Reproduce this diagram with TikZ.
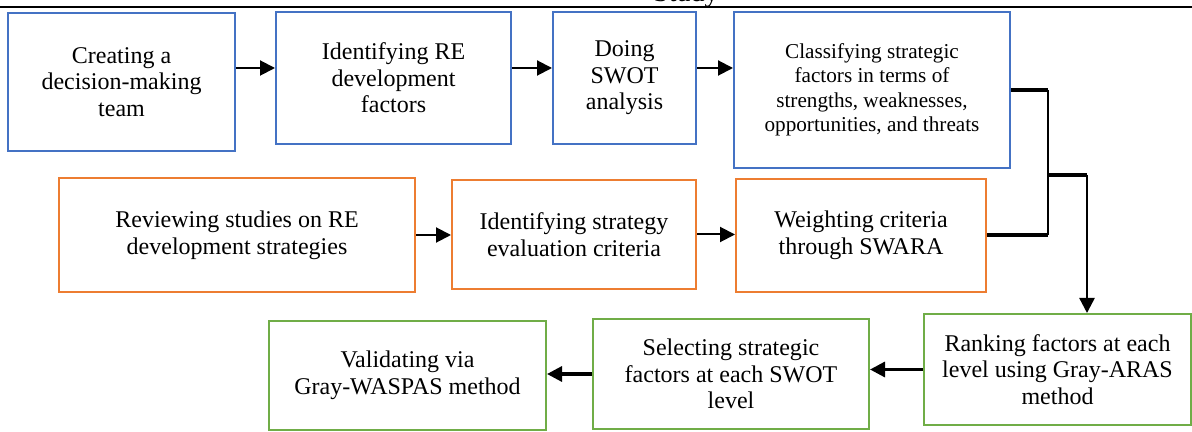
\documentclass[tikz,border=0pt]{standalone}
\usepackage{fontspec}
\setmainfont{Liberation Serif}
\usetikzlibrary{arrows.meta}
\definecolor{boxblue}{HTML}{4472C4}
\definecolor{boxorange}{HTML}{ED7D31}
\definecolor{boxgreen}{HTML}{70AD47}

\begin{document}
\begin{tikzpicture}[x=0.5pt,y=-0.5pt,
  box/.style={draw,line width=1pt,align=center,inner sep=2pt,font=\fontsize{12}{13.3}\selectfont},
  bluebox/.style={box,draw=boxblue},
  orangebox/.style={box,draw=boxorange},
  greenbox/.style={box,draw=boxgreen},
  arr/.style={-{Triangle[length=7.5pt,width=7.5pt]},line width=1pt},
  thickarr/.style={arr,line width=1.6pt}]
  \useasboundingbox (0,0) rectangle (1192,432);

  % Caption rule
  \draw[line width=1pt] (0,7) -- (1192,7);
  \node[anchor=base] (study) at (686,2) {\fontsize{14}{15}\selectfont Study};

  % SWOT steps
  \node[bluebox,minimum width=113.5pt,minimum height=69pt] (team) at (121.5,82) {Creating a\\decision-making\\team};
  \node[bluebox,minimum width=117.5pt,minimum height=66pt] (factors) at (393.5,78) {Identifying RE\\development\\factors};
  \node[bluebox,minimum width=71.5pt,minimum height=66pt] (swot) at (624.5,78) {Doing\\SWOT\\analysis};
  \node[bluebox,minimum width=138pt,minimum height=78pt,font=\fontsize{10.6}{12.25}\selectfont] (classify) at (872,90)
    {Classifying strategic\\factors in terms of\\strengths, weaknesses,\\opportunities, and threats};
  \coordinate (row1) at (0,68);
  \draw[arr] (team.east |- row1) -- (factors.west |- row1);
  \draw[arr] (factors.east |- row1) -- (swot.west |- row1);
  \draw[arr] (swot.east |- row1) -- (classify.west |- row1);

  % Criteria steps
  \node[orangebox,minimum width=178pt,minimum height=57pt] (review) at (237,235) {Reviewing studies on RE\\development strategies};
  \node[orangebox,minimum width=122pt,minimum height=54.5pt] (criteria) at (574,234.5) {Identifying strategy\\evaluation criteria};
  \node[orangebox,minimum width=125pt,minimum height=56.5pt] (weight) at (861,235.5) {Weighting criteria\\through SWARA};
  \draw[arr] (review.east) -- (review.east -| criteria.west);
  \draw[arr] (criteria.east) -- (criteria.east -| weight.west);

  % Join
  \coordinate (fork) at (1048,175);
  \coordinate (turn) at (1087,175);
  \draw[line width=2pt] (classify.east) -- (classify.east -| fork);
  \draw[line width=2pt] (weight.east) -- (weight.east -| fork);
  \draw[line width=1.2pt] (classify.east -| fork) -- (weight.east -| fork);
  \draw[line width=2pt] (fork) -- (turn);

  % Ranking and selection
  \node[greenbox,minimum width=133.5pt,minimum height=55.5pt] (rank) at (1057.5,369.5) {Ranking factors at each\\level using Gray-ARAS\\method};
  \node[greenbox,minimum width=138pt,minimum height=55pt] (select) at (731,374) {Selecting strategic\\factors at each SWOT\\level};
  \node[greenbox,minimum width=138.5pt,minimum height=54.5pt] (valid) at (407.5,375.5) {Validating via\\Gray-WASPAS method};
  \draw[arr,line width=1.2pt] (turn) -- (turn |- rank.north);
  \draw[thickarr] (rank.west) -- (rank.west -| select.east);
  \draw[thickarr] (select.west) -- (select.west -| valid.east);
\end{tikzpicture}
\end{document}
